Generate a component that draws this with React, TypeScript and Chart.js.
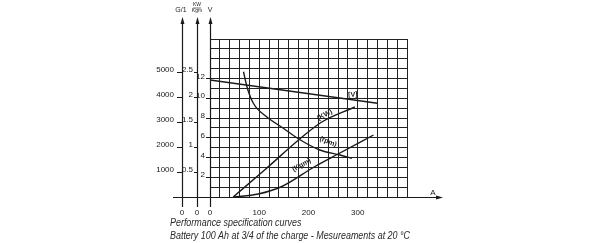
import React, { useEffect, useRef } from "react";
import { Chart, registerables } from "chart.js";

Chart.register(...registerables);

// ---- data (x in A) ----
const AMPS_V = [0, 340];
const VOLTS = [11.85, 9.5];

const AMPS_KW = [47, 112, 181, 227, 294];
const KW = [0, 0.55, 1.15, 1.5, 1.8];

const AMPS_KGM = [47, 98, 146, 213, 260, 332];
const KGM = [0, 0.06, 0.21, 0.61, 0.86, 1.24];

const AMPS_RPM = [68, 75, 88, 115, 149, 181, 223, 264, 288];
const RPM = [5010, 4410, 3750, 3210, 2750, 2310, 1880, 1680, 1550];

const X_LABELS = [0, 100, 200, 300];
const V_LABELS = [2, 4, 6, 8, 10, 12];
const G_TICKS = [1000, 2000, 3000, 4000, 5000];
const K_TICKS = [0.5, 1, 1.5, 2, 2.5];

const CURVE_LABELS = [
  { text: "[V]", axis: "yV", x: 290, y: 10.35, angle: -4 },
  { text: "(KW)", axis: "yK", x: 233, y: 1.64, angle: -28 },
  { text: "(rpm)", axis: "yG", x: 240, y: 2212, angle: 22 },
  { text: "(Kgm)", axis: "yK", x: 186, y: 0.64, angle: -30 },
];

const CAPTION = [
  "Performance specification curves",
  "Battery 100 Ah at 3/4 of the charge - Mesureaments at 20 °C",
];

const NARROW = "'Liberation Sans Narrow', 'Liberation Sans', sans-serif";
const INK = "#1a1a1a";

const pts = (xs: number[], ys: number[]) => xs.map((x, i) => ({ x, y: ys[i] }));

const decorPlugin = {
  id: "decor",
  afterDraw(chart: any) {
    const { ctx, scales, chartArea } = chart;
    const xs = scales.x;
    const yBase = chartArea.bottom;
    ctx.save();
    ctx.strokeStyle = INK;
    ctx.fillStyle = INK;
    ctx.lineWidth = 1.2;

    // vertical axes with arrows
    const axes = [scales.yG, scales.yK, scales.yV];
    axes.forEach((s: any) => {
      const x = Math.round(s.right) + 0.5;
      ctx.beginPath();
      ctx.moveTo(x, 22);
      ctx.lineTo(x, yBase + 10);
      ctx.stroke();
      ctx.beginPath();
      ctx.moveTo(x, 17);
      ctx.lineTo(x - 2, 24);
      ctx.lineTo(x + 2, 24);
      ctx.closePath();
      ctx.fill();
    });

    // horizontal axis
    const yA = Math.round(yBase) + 0.5;
    ctx.beginPath();
    ctx.moveTo(173, yA);
    ctx.lineTo(438, yA);
    ctx.stroke();
    ctx.beginPath();
    ctx.moveTo(443, yA);
    ctx.lineTo(436, yA - 2);
    ctx.lineTo(436, yA + 2);
    ctx.closePath();
    ctx.fill();

    ctx.font = `8px ${NARROW}`;
    ctx.textAlign = "center";
    ctx.textBaseline = "middle";
    ctx.fillText("A", 433, yA - 5);

    // axis titles
    const xG = Math.round(scales.yG.right);
    const xK = Math.round(scales.yK.right);
    const xV = Math.round(scales.yV.right);
    ctx.font = `7px ${NARROW}`;
    ctx.fillText("G/1", xG - 1, 10);
    ctx.fillText("V", xV, 10);
    ctx.font = `5px ${NARROW}`;
    ctx.fillText("KW", xK, 5);
    ctx.fillText("Kgm", xK, 11);
    ctx.lineWidth = 0.6;
    ctx.beginPath();
    ctx.moveTo(xK - 4, 8);
    ctx.lineTo(xK + 4, 8);
    ctx.stroke();

    // zeros of the outer axes
    ctx.font = `8px ${NARROW}`;
    const yZero = yBase + 16;
    ctx.fillText("0", xG, yZero);
    ctx.fillText("0", xK, yZero);

    // curve labels
    ctx.font = `bold 7px ${NARROW}`;
    CURVE_LABELS.forEach((l) => {
      const px = xs.getPixelForValue(l.x);
      const py = scales[l.axis].getPixelForValue(l.y);
      ctx.save();
      ctx.translate(px, py);
      ctx.rotate((l.angle * Math.PI) / 180);
      ctx.fillText(l.text, 0, 0);
      ctx.restore();
    });

    // caption (condensed horizontally to the width of the original)
    ctx.fillStyle = "#2a2a2a";
    ctx.textAlign = "left";
    ctx.font = `italic 10px ${NARROW}`;
    const w = ctx.measureText(CAPTION[1]).width;
    const sx = Math.min(1, 240 / w);
    ctx.save();
    ctx.translate(170, 0);
    ctx.scale(sx, 1);
    ctx.fillText(CAPTION[0], 0, 223);
    ctx.fillText(CAPTION[1], 0, 236);
    ctx.restore();
    ctx.restore();
  },
};

export default function App() {
  const ref = useRef<HTMLCanvasElement | null>(null);

  useEffect(() => {
    document.body.style.margin = "0";
    const canvas = ref.current;
    if (!canvas) return;
    const line = (data: any, yAxisID: string, mono = true) => ({
      data,
      yAxisID,
      xAxisID: "x",
      borderColor: INK,
      borderWidth: 1.4,
      pointRadius: 0,
      fill: false,
      cubicInterpolationMode: mono ? "monotone" : "default",
      tension: 0,
    });
    const tickFont = { size: 8, family: NARROW };
    const chart = new Chart(canvas, {
      type: "line",
      data: {
        datasets: [
          line(pts(AMPS_V, VOLTS), "yV", false),
          line(pts(AMPS_KW, KW), "yK"),
          line(pts(AMPS_KGM, KGM), "yK"),
          line(pts(AMPS_RPM, RPM), "yG"),
        ] as any,
      },
      options: {
        responsive: false,
        maintainAspectRatio: false,
        animation: false,
        devicePixelRatio: 1,
        layout: { padding: { left: 150, right: 193, top: 39, bottom: 26 } },
        plugins: { legend: { display: false }, tooltip: { enabled: false } },
        scales: {
          x: {
            type: "linear",
            position: "bottom",
            min: 0,
            max: 400,
            border: { display: false },
            grid: { color: "#222", lineWidth: 1, drawTicks: false },
            ticks: {
              stepSize: 20,
              autoSkip: false,
              maxRotation: 0,
              padding: 11,
              color: INK,
              font: tickFont,
              callback: (v: any) => (X_LABELS.includes(Number(v)) ? String(v) : ""),
            },
            afterFit: (s: any) => {
              s.height = 20;
            },
          },
          yV: {
            type: "linear",
            position: "left",
            weight: 1,
            min: 0,
            max: 16,
            border: { display: false },
            grid: {
              color: "#222",
              lineWidth: 1,
              tickLength: 4,
              tickColor: (c: any) =>
                c.tick && V_LABELS.includes(c.tick.value) ? INK : "rgba(0,0,0,0)",
            },
            ticks: {
              stepSize: 1,
              autoSkip: false,
              padding: 1,
              labelOffset: -2,
              color: INK,
              font: tickFont,
              callback: (v: any) => (V_LABELS.includes(Number(v)) ? String(v) : ""),
            },
            afterFit: (s: any) => {
              s.width = 13;
            },
          },
          yK: {
            type: "linear",
            position: "left",
            weight: 2,
            min: 0,
            max: 3.16,
            border: { display: false },
            grid: { drawOnChartArea: false, tickLength: 3, color: INK },
            ticks: {
              autoSkip: false,
              padding: 1,
              labelOffset: -2,
              color: INK,
              font: tickFont,
              callback: (v: any) => String(v),
            },
            afterBuildTicks: (s: any) => {
              s.ticks = K_TICKS.map((value) => ({ value }));
            },
            afterFit: (s: any) => {
              s.width = 15;
            },
          },
          yG: {
            type: "linear",
            position: "left",
            weight: 3,
            min: 0,
            max: 6320,
            border: { display: false },
            grid: { drawOnChartArea: false, tickLength: 5, color: INK },
            ticks: {
              autoSkip: false,
              padding: 3,
              labelOffset: -2,
              color: INK,
              font: tickFont,
              callback: (v: any) => String(v),
            },
            afterBuildTicks: (s: any) => {
              s.ticks = G_TICKS.map((value) => ({ value }));
            },
            afterFit: (s: any) => {
              s.width = 32;
            },
          },
        },
      } as any,
      plugins: [decorPlugin],
    });
    return () => chart.destroy();
  }, []);

  return (
    <div style={{ width: 600, height: 243, background: "#fff" }}>
      <canvas ref={ref} width={600} height={243} style={{ width: 600, height: 243, display: "block" }} />
    </div>
  );
}
